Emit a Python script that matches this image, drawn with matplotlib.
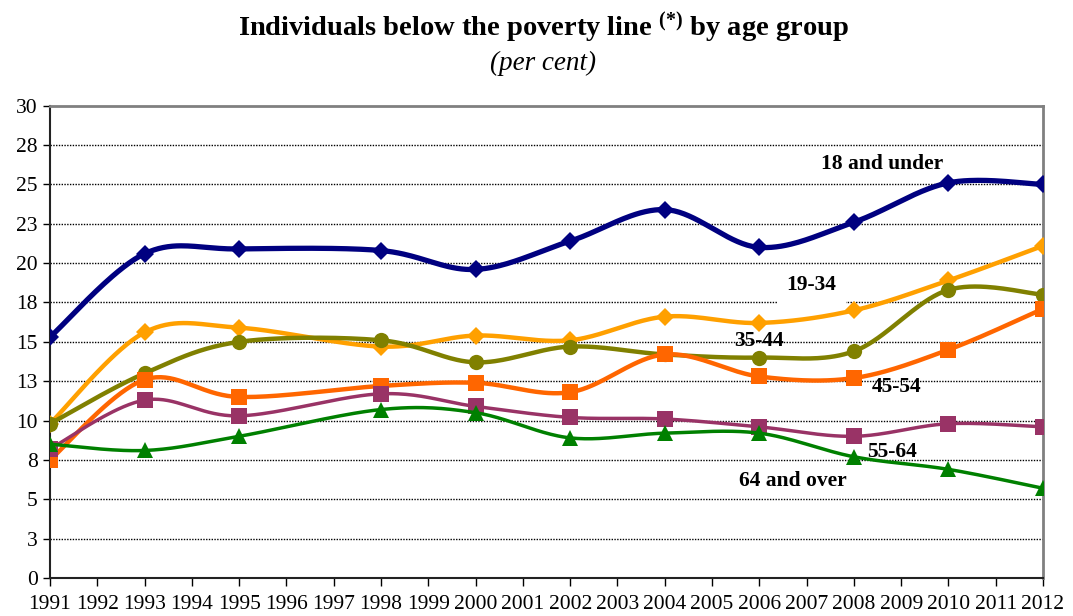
import numpy as np
import matplotlib
matplotlib.use("Agg")
import matplotlib.pyplot as plt

plt.rcParams['font.family'] = ['Liberation Serif', 'DejaVu Serif']
plt.rcParams['mathtext.fontset'] = 'custom'
plt.rcParams['mathtext.rm'] = 'Liberation Serif:bold'
plt.rcParams['mathtext.default'] = 'rm'

# =====================
# Data (per cent below poverty line)
# =====================
years = [1991, 1993, 1995, 1998, 2000, 2002, 2004, 2006, 2008, 2010, 2012]

under_18 = [15.3, 20.6, 20.9, 20.8, 19.6, 21.4, 23.4, 21.0, 22.6, 25.1, 25.0]
age_19_34 = [9.8, 15.6, 15.9, 14.7, 15.4, 15.1, 16.6, 16.2, 17.0, 18.9, 21.1]
age_35_44 = [9.8, 13.0, 15.0, 15.1, 13.7, 14.7, 14.2, 14.0, 14.4, 18.3, 18.0]
age_45_54 = [7.5, 12.6, 11.5, 12.2, 12.4, 11.8, 14.2, 12.8, 12.7, 14.5, 17.1]
age_55_64 = [8.2, 11.3, 10.3, 11.7, 10.9, 10.2, 10.1, 9.6, 9.0, 9.8, 9.6]
over_64 = [8.5, 8.1, 9.0, 10.7, 10.5, 8.9, 9.2, 9.2, 7.7, 6.9, 5.7]

series_names = ['18 and under', '19-34', '35-44', '45-54', '55-64', '64 and over']

year_ticks = list(range(1991, 2013))
y_ticks = [0, 2.5, 5, 7.5, 10, 12.5, 15, 17.5, 20, 22.5, 25, 27.5, 30]
y_tick_labels = ['0', '3', '5', '8', '10', '13', '15', '18', '20', '23', '25', '28', '30']


def smooth(xs, ys, n=40):
    # cubic bezier through the points, Excel-style smoothed line
    pts = np.column_stack([xs, ys]).astype(float)
    ext = np.vstack([pts[0], pts, pts[-1]])
    t = np.linspace(0, 1, n)[:, None]
    out = []
    for i in range(len(pts) - 1):
        p0, p1, p2, p3 = ext[i], ext[i + 1], ext[i + 2], ext[i + 3]
        c1 = p1 + (p2 - p0) / 6
        c2 = p2 - (p3 - p1) / 6
        seg = ((1 - t) ** 3) * p1 + 3 * (1 - t) ** 2 * t * c1 \
            + 3 * (1 - t) * t ** 2 * c2 + t ** 3 * p2
        out.append(seg if i == 0 else seg[1:])
    return np.vstack(out)


fig = plt.figure(figsize=(10.73, 6.16), dpi=100)
ax = fig.add_axes([50 / 1073, 38 / 616, 993 / 1073, 472.3 / 616])

styles = [
    (under_18, '#000080', 'D', 9, 3.8),
    (age_19_34, '#FFA000', 'D', 9, 3.2),
    (age_35_44, '#808000', 'o', 11, 3.2),
    (age_45_54, '#FF6600', 's', 11, 3.2),
    (age_55_64, '#993366', 's', 11, 2.5),
    (over_64, '#008000', '^', 11, 2.5),
]

for vals, color, marker, msize, lw in styles:
    curve = smooth(years, vals)
    ax.plot(curve[:, 0], curve[:, 1], color=color, lw=lw, solid_capstyle='round', zorder=3)
    ax.plot(years, vals, ls='none', marker=marker, ms=msize, color=color,
            markeredgewidth=0, zorder=3)

# series labels
lab_kw = dict(fontsize=15.5, fontweight='bold', ha='center', va='center', zorder=4)
ax.text(2008.6, 26.3, series_names[0], **lab_kw)
ax.text(2007.1, 18.6, series_names[1],
        bbox=dict(boxstyle='square,pad=0.45', fc='white', ec='none'), **lab_kw)
ax.text(2006.0, 15.05, series_names[2], **lab_kw)
ax.text(2008.9, 12.15, series_names[3], **lab_kw)
ax.text(2008.8, 8.0, series_names[4], **lab_kw)
ax.text(2006.7, 6.18, series_names[5], **lab_kw)

ax.set_xlim(1991, 2012)
ax.set_ylim(0, 30)
ax.set_xticks(year_ticks)
ax.set_xticklabels([str(y) for y in year_ticks], fontsize=15.5)
ax.set_yticks(y_ticks)
ax.set_yticklabels(y_tick_labels, fontsize=15.5)
ax.tick_params(axis='x', direction='out', length=6, width=1, pad=6)
ax.tick_params(axis='y', direction='out', length=5, width=1, pad=4)

for y in y_ticks[1:-1]:
    ax.axhline(y, color='black', lw=1.0, ls=(0, (1.0, 1.0)), zorder=1)

ax.spines['top'].set_color('#808080')
ax.spines['top'].set_linewidth(2)
ax.spines['right'].set_color('#808080')
ax.spines['right'].set_linewidth(2)
ax.spines['left'].set_color('#222222')
ax.spines['left'].set_linewidth(1.5)
ax.spines['bottom'].set_color('#222222')
ax.spines['bottom'].set_linewidth(1.5)

fig.text(543 / 1073, 1 - 28 / 616,
         r'Individuals below the poverty line $^{(*)}$ by age group',
         ha='center', va='center', fontsize=20.5, fontweight='bold')
fig.text(543 / 1073, 1 - 63 / 616, '(per cent)', ha='center', va='center',
         fontsize=19.5, style='italic')

plt.savefig('out.png', dpi=100)
